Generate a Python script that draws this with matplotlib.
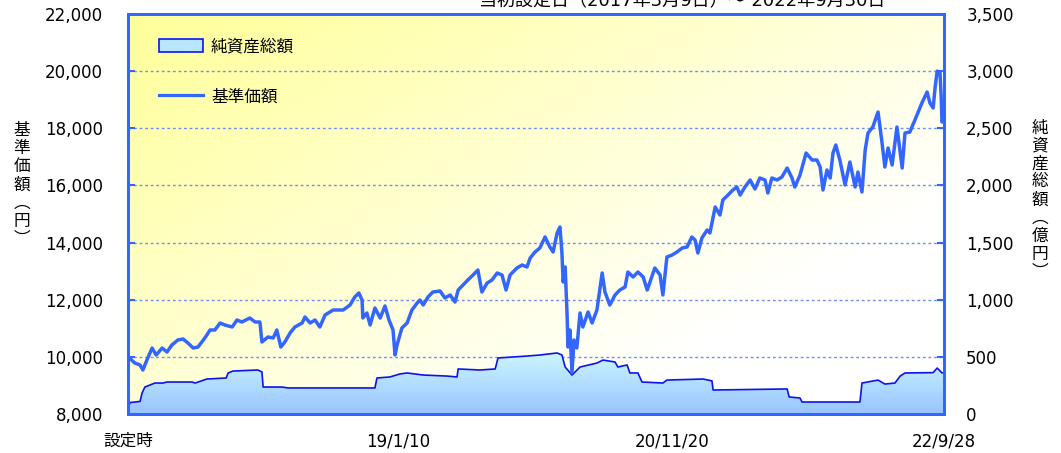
import numpy as np
import pandas as pd
import matplotlib
matplotlib.use("Agg")
import matplotlib.pyplot as plt
import matplotlib.dates as mdates
from matplotlib.colors import LinearSegmentedColormap
from matplotlib.patches import Patch
from matplotlib.lines import Line2D

plt.rcParams['font.family'] = ['DejaVu Sans', 'Noto Sans CJK JP']

# 基準価額 (円)
nav_dates = [
    "2017-03-09", "2017-03-26", "2017-04-08", "2017-04-15", "2017-04-25", "2017-05-08",
    "2017-05-18", "2017-06-02", "2017-06-14", "2017-06-26", "2017-07-11", "2017-07-24",
    "2017-08-05", "2017-08-18", "2017-08-30", "2017-09-16", "2017-09-29", "2017-10-11",
    "2017-10-24", "2017-11-05", "2017-11-23", "2017-12-05", "2017-12-17", "2018-01-06",
    "2018-01-19", "2018-01-31", "2018-02-05", "2018-02-20", "2018-03-05", "2018-03-14",
    "2018-03-24", "2018-04-03", "2018-04-16", "2018-04-28", "2018-05-16", "2018-05-23",
    "2018-06-05", "2018-06-17", "2018-06-29", "2018-07-12", "2018-08-01", "2018-08-11",
    "2018-08-26", "2018-09-12", "2018-09-24", "2018-10-04", "2018-10-12", "2018-10-14",
    "2018-10-24", "2018-11-01", "2018-11-13", "2018-11-26", "2018-12-08", "2018-12-18",
    "2018-12-28", "2019-01-02", "2019-01-07", "2019-01-19", "2019-02-01", "2019-02-13",
    "2019-02-26", "2019-03-05", "2019-03-13", "2019-03-25", "2019-04-06", "2019-04-24",
    "2019-05-06", "2019-05-19", "2019-05-31", "2019-06-08", "2019-06-20", "2019-07-02",
    "2019-07-15", "2019-07-27", "2019-08-06", "2019-08-19", "2019-08-31", "2019-09-13",
    "2019-09-25", "2019-10-05", "2019-10-15", "2019-11-01", "2019-11-14", "2019-11-26",
    "2019-12-04", "2019-12-16", "2019-12-28", "2020-01-10", "2020-01-22", "2020-01-30",
    "2020-02-09", "2020-02-16", "2020-02-21", "2020-02-24", "2020-02-29", "2020-03-05",
    "2020-03-07", "2020-03-12", "2020-03-17", "2020-03-22", "2020-03-29", "2020-04-06",
    "2020-04-13", "2020-04-26", "2020-05-06", "2020-05-18", "2020-05-31", "2020-06-07",
    "2020-06-19", "2020-07-02", "2020-07-14", "2020-07-27", "2020-08-03", "2020-08-16",
    "2020-08-28", "2020-09-10", "2020-09-20", "2020-09-27", "2020-10-09", "2020-10-22",
    "2020-10-29", "2020-11-08", "2020-11-21", "2020-12-03", "2020-12-16", "2020-12-28",
    "2021-01-09", "2021-01-17", "2021-01-24", "2021-02-03", "2021-02-16", "2021-02-23",
    "2021-03-08", "2021-03-20", "2021-03-27", "2021-04-09", "2021-04-21", "2021-05-01",
    "2021-05-09", "2021-05-21", "2021-06-03", "2021-06-15", "2021-06-27", "2021-07-10",
    "2021-07-17", "2021-07-27", "2021-08-09", "2021-08-21", "2021-09-03", "2021-09-15",
    "2021-09-22", "2021-10-05", "2021-10-20", "2021-11-04", "2021-11-16", "2021-11-24",
    "2021-12-01", "2021-12-11", "2021-12-19", "2021-12-26", "2022-01-02", "2022-01-12",
    "2022-01-25", "2022-02-06", "2022-02-19", "2022-02-26", "2022-03-08", "2022-03-16",
    "2022-03-23", "2022-04-04", "2022-04-17", "2022-04-27", "2022-05-04", "2022-05-12",
    "2022-05-22", "2022-06-03", "2022-06-16", "2022-06-23", "2022-07-05", "2022-07-18",
    "2022-08-04", "2022-08-17", "2022-08-24", "2022-09-01", "2022-09-06", "2022-09-11",
    "2022-09-18", "2022-09-21", "2022-09-23", "2022-09-28",
]
nav_values = [
    10000, 9785, 9715, 9540, 9890, 10310,
    10065, 10310, 10170, 10415, 10590, 10625,
    10485, 10310, 10345, 10660, 10940, 10940,
    11185, 11115, 11045, 11290, 11220, 11360,
    11220, 11220, 10520, 10695, 10660, 10940,
    10345, 10520, 10835, 11045, 11185, 11395,
    11185, 11290, 11045, 11465, 11640, 11640,
    11640, 11815, 12095, 12235, 11990, 11360,
    11535, 11115, 11710, 11360, 11780, 11290,
    10940, 10065, 10415, 11010, 11185, 11640,
    11885, 11990, 11815, 12095, 12270, 12305,
    12060, 12165, 11920, 12340, 12515, 12690,
    12865, 13040, 12270, 12585, 12690, 12935,
    12865, 12340, 12865, 13110, 13215, 13145,
    13460, 13670, 13810, 14195, 13845, 13670,
    14335, 14545, 13635, 12620, 13145, 11395,
    10345, 10940, 9450, 10590, 10310, 11535,
    11045, 11570, 11185, 11640, 12935, 12270,
    11815, 12165, 12340, 12445, 12970, 12795,
    12970, 12795, 12340, 12620, 13110, 12865,
    12165, 13495, 13565, 13670, 13810, 13845,
    14195, 14090, 13635, 14160, 14440, 14335,
    15245, 14965, 15490, 15665, 15840, 15945,
    15665, 15945, 16190, 15875, 16260, 16190,
    15735, 16260, 16190, 16295, 16610, 16260,
    15945, 16365, 17135, 16890, 16890, 16645,
    15840, 16540, 16260, 17135, 17415, 16890,
    16015, 16820, 15945, 16470, 15770, 17240,
    17835, 18045, 18570, 17485, 16645, 17310,
    16715, 18045, 16610, 17835, 17870, 18300,
    18885, 19270, 18885, 18710, 19445, 20000,
    19950, 19100, 18220, 18350,
]

# 純資産総額 (億円)
asset_dates = [
    "2017-03-09", "2017-03-14", "2017-04-08", "2017-04-13", "2017-04-20", "2017-05-15",
    "2017-06-04", "2017-06-14", "2017-08-15", "2017-08-23", "2017-09-21", "2017-11-08",
    "2017-11-13", "2017-11-25", "2018-01-26", "2018-02-05", "2018-02-08", "2018-03-27",
    "2018-04-11", "2018-11-13", "2018-11-18", "2018-12-20", "2019-01-14", "2019-02-01",
    "2019-03-13", "2019-05-11", "2019-06-05", "2019-06-08", "2019-08-01", "2019-09-08",
    "2019-09-15", "2019-11-26", "2019-12-28", "2020-02-09", "2020-02-21", "2020-02-29",
    "2020-03-17", "2020-04-06", "2020-05-18", "2020-06-02", "2020-07-02", "2020-07-09",
    "2020-08-01", "2020-08-08", "2020-08-28", "2020-09-07", "2020-10-29", "2020-11-08",
    "2021-02-06", "2021-02-28", "2021-03-03", "2021-09-03", "2021-09-08", "2021-10-05",
    "2021-10-10", "2022-03-03", "2022-03-08", "2022-04-17", "2022-05-04", "2022-05-29",
    "2022-06-11", "2022-06-23", "2022-09-01", "2022-09-11", "2022-09-23", "2022-09-28",
]
asset_values = [
    50, 100, 110, 184, 236, 271,
    271, 280, 280, 271, 306, 315,
    359, 376, 385, 368, 236, 236,
    228, 228, 315, 324, 350, 359,
    341, 332, 324, 394, 385, 394,
    490, 507, 516, 534, 516, 411,
    341, 411, 446, 472, 455, 411,
    429, 359, 359, 280, 271, 297,
    306, 290, 210, 219, 149, 140,
    105, 105, 271, 297, 262, 271,
    332, 359, 362, 402, 359, 365,
]

tick_dates = ["2017-03-09", "2019-01-10", "2020-11-20", "2022-09-28"]
tick_labels = ["設定時", "19/1/10", "20/11/20", "22/9/28"]
nav_ticks = [8000, 10000, 12000, 14000, 16000, 18000, 20000, 22000]
asset_ticks = [0, 500, 1000, 1500, 2000, 2500, 3000, 3500]

blue = '#3366ff'
nd = mdates.date2num(pd.to_datetime(nav_dates))
ad = mdates.date2num(pd.to_datetime(asset_dates))
td = mdates.date2num(pd.to_datetime(tick_dates))
x0, x1 = td[0], td[-1]

fig = plt.figure(figsize=(10.61, 4.53), dpi=100)
ax = fig.add_axes([128/1061, 39/453, 816/1061, 400/453])
ax2 = ax.twinx()

# background gradient (yellow top-left to white bottom-right)
u, v = np.meshgrid(np.linspace(0, 1, 200), np.linspace(0, 1, 100))
t = np.clip(1 - 0.7*u - 0.6*(1 - v), 0, 1)
bg_cmap = LinearSegmentedColormap.from_list('bg', ['#ffffff', '#ffff99'])
ax.imshow(t, extent=[0, 1, 0, 1], transform=ax.transAxes, origin='lower',
          aspect='auto', cmap=bg_cmap, vmin=0, vmax=1, zorder=0)

# grid
for val in asset_ticks[1:-1]:
    ax.axhline(val, color='#6f8ff0', lw=1, ls=(0, (2, 2)), zorder=1)

# net assets area with vertical gradient
poly = ax.fill_between(ad, asset_values, 0, facecolor='none', edgecolor='none')
grad = np.linspace(0, 1, 100).reshape(-1, 1)
area_cmap = LinearSegmentedColormap.from_list('area', ['#99c4ff', '#cff8ff'])
im = ax.imshow(grad, extent=[x0, x1, 0, 560], origin='lower', aspect='auto',
               cmap=area_cmap, zorder=2)
im.set_clip_path(poly.get_paths()[0], transform=ax.transData)
ax.plot(ad, asset_values, color='#0a14f0', lw=1.2, zorder=3)

ax.set_xlim(x0, x1)
ax.set_ylim(0, 3500)
ax.yaxis.tick_right()
ax.set_yticks(asset_ticks)
ax.set_yticklabels([f"{a:,}" for a in asset_ticks])

# NAV line
ax2.plot(nd, nav_values, color=blue, lw=2.5, zorder=4)
ax2.set_ylim(8000, 22000)
ax2.yaxis.tick_left()
ax2.set_yticks(nav_ticks)
ax2.set_yticklabels([f"{n:,}" for n in nav_ticks])
ax2.set_xlim(x0, x1)

ax.set_xticks(td)
ax.set_xticklabels(tick_labels)

for a in (ax, ax2):
    for s in a.spines.values():
        s.set_color(blue)
        s.set_linewidth(2)
ax.tick_params(axis='x', direction='in', length=6, width=2, color=blue,
               labelsize=12, pad=13)
ax.tick_params(axis='y', direction='in', length=5, width=1.5, color=blue,
               labelsize=12, pad=16)
ax2.tick_params(axis='y', direction='in', length=5, width=1.5, color=blue,
                labelsize=12, pad=18)

# legend
handles = [Patch(facecolor='#b8e6ff', edgecolor='#0a14f0', lw=1.2),
           Line2D([], [], color=blue, lw=2.3)]
ax2.legend(handles, ["純資産総額", "基準価額"], loc='upper left',
           bbox_to_anchor=(0.02, 0.98), frameon=False, fontsize=12,
           handlelength=2.6, handleheight=0.8, labelspacing=1.95, handletextpad=0.5)

# vertical axis titles
fig.text(22/1061, 1 - 185/453, "基\n準\n価\n額\n︵\n円\n︶", ha='center', va='center',
         fontsize=12, linespacing=1.08, family=['Noto Sans CJK JP'])
fig.text(1040/1061, 1 - 200/453, "純\n資\n産\n総\n額\n︵\n億\n円\n︶", ha='center',
         va='center', fontsize=12, linespacing=1.08, family=['Noto Sans CJK JP'])

# period caption (partly out of frame at the top, as in the source)
fig.text(682/1061, 1 - 6/453, "当初設定日（2017年3月9日）～ 2022年9月30日",
         ha='center', va='baseline', fontsize=13)

fig.savefig("out.png", dpi=100)
